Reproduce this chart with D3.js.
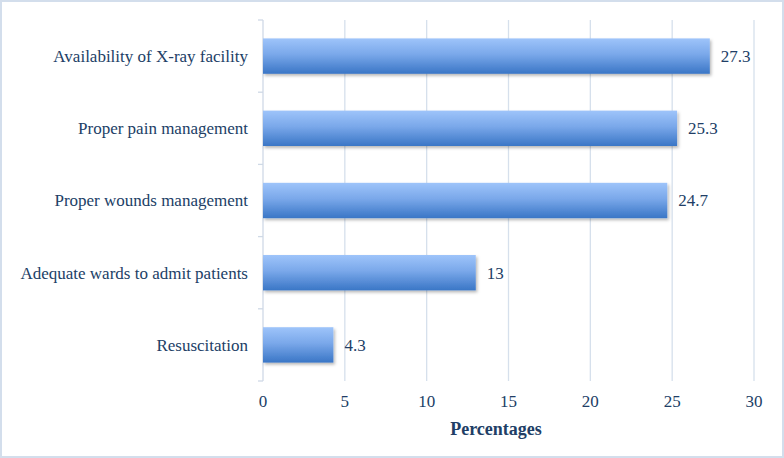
<!DOCTYPE html>
<html><head><meta charset="utf-8">
<script src="https://cdn.jsdelivr.net/npm/d3@7"></script>
<style>html,body{margin:0;padding:0;background:#fff}svg{display:block}</style>
</head><body>
<svg id="c" width="784" height="458"></svg>
<script>
const categories = ["Availability of X-ray facility","Proper pain management","Proper wounds management","Adequate wards to admit patients","Resuscitation"];
const values = [27.3, 25.3, 24.7, 13, 4.3];
const valueLabels = ["27.3","25.3","24.7","13","4.3"];
const xTicks = [0,5,10,15,20,25,30];
const axisTitle = "Percentages";

const svg = d3.select("#c");
const W = 784, H = 458;
const m = {left:263, right:30, top:20, bottom:77};
const font = "'Liberation Serif', 'Times New Roman', serif";
const txt = "#213e66";
const fs = 17;

svg.append("rect").attr("x",1).attr("y",1).attr("width",W-2).attr("height",H-2)
  .attr("fill","#fff").attr("stroke","#d3deec").attr("stroke-width",2);

const defs = svg.append("defs");
const g1 = defs.append("linearGradient").attr("id","bg").attr("x1",0).attr("y1",0).attr("x2",0).attr("y2",1);
g1.append("stop").attr("offset","0%").attr("stop-color","#9ec4fa");
g1.append("stop").attr("offset","45%").attr("stop-color","#7aa8ea");
g1.append("stop").attr("offset","100%").attr("stop-color","#3a76c6");
const f = defs.append("filter").attr("id","sh").attr("x","-10%").attr("y","-20%").attr("width","130%").attr("height","160%");
f.append("feDropShadow").attr("dx",1.5).attr("dy",2).attr("stdDeviation",1.5).attr("flood-color","#000").attr("flood-opacity",0.28);

const x = d3.scaleLinear().domain([0,30]).range([m.left, W-m.right]);
const y = d3.scaleBand().domain(categories).range([m.top, H-m.bottom]).paddingInner(0.51).paddingOuter(0.255);
const yb = d3.scaleBand().domain(categories).range([m.top, H-m.bottom]);

svg.append("g").selectAll("line").data(xTicks.filter(t=>t>0)).join("line")
  .attr("x1",d=>x(d)).attr("x2",d=>x(d)).attr("y1",m.top).attr("y2",H-m.bottom)
  .attr("stroke","#d6e0ec").attr("stroke-width",1.3);

const axC = "#cfd9e6";
svg.append("line").attr("x1",x(0)).attr("x2",x(0)).attr("y1",m.top).attr("y2",H-m.bottom)
  .attr("stroke",axC).attr("stroke-width",1.3);
const bandEdges = categories.map(c=>yb(c)).concat([H-m.bottom]);
svg.append("g").selectAll("line").data(bandEdges).join("line")
  .attr("x1",x(0)-5).attr("x2",x(0)).attr("y1",d=>d).attr("y2",d=>d)
  .attr("stroke",axC).attr("stroke-width",1.3);

svg.append("g").selectAll("rect").data(values).join("rect")
  .attr("x",x(0)).attr("y",(d,i)=>y(categories[i])).attr("width",d=>x(d)-x(0)).attr("height",y.bandwidth())
  .attr("fill","url(#bg)").attr("filter","url(#sh)");

svg.append("g").selectAll("text").data(values).join("text")
  .attr("x",d=>x(d)+11).attr("y",(d,i)=>y(categories[i])+y.bandwidth()/2)
  .attr("dy","0.35em").attr("font-family",font).attr("font-size",fs).attr("fill",txt)
  .text((d,i)=>valueLabels[i]);

svg.append("g").selectAll("text").data(categories).join("text")
  .attr("x",x(0)-15).attr("y",d=>y(d)+y.bandwidth()/2).attr("dy","0.35em")
  .attr("text-anchor","end").attr("font-family",font).attr("font-size",fs).attr("fill",txt)
  .text(d=>d);

svg.append("g").selectAll("text").data(xTicks).join("text")
  .attr("x",d=>x(d)).attr("y",H-m.bottom+20).attr("dy","0.35em")
  .attr("text-anchor","middle").attr("font-family",font).attr("font-size",fs).attr("fill",txt)
  .text(d=>d);

svg.append("text").attr("x",496).attr("y",429).attr("dy","0.35em").attr("text-anchor","middle")
  .attr("font-family",font).attr("font-size",18).attr("font-weight","bold").attr("fill",txt).text(axisTitle);
</script>
</body></html>
